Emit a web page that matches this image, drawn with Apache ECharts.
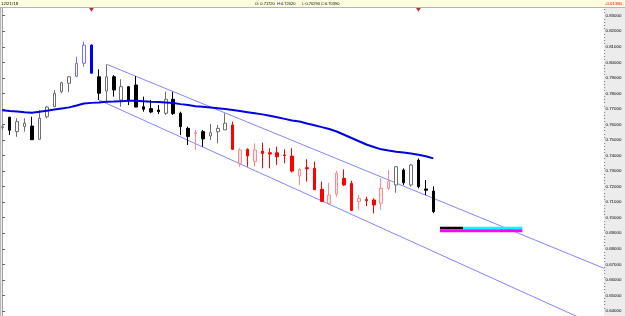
<!DOCTYPE html>
<html><head><meta charset="utf-8">
<script src="https://cdn.jsdelivr.net/npm/echarts@6/dist/echarts.min.js"></script>
<style>html,body{margin:0;padding:0;background:#fff}#c{width:625px;height:316px}</style>
</head><body><div id="c"></div>
<script>
const dateLabel = '12/21/18';
const opens  = [0.7580,0.7646,0.7554,0.7587,0.7590,0.7505,0.7650,0.7715,0.7811,0.7865,
                0.7910,0.7994,0.8111,0.7907,0.7815,0.7907,0.7758,0.7843,0.7854,0.7714,
                0.7702,0.7693,0.7672,0.7762,0.7672,0.7575,0.7542,0.7554,0.7526,0.7553,
                0.7565,0.7597,0.7350,0.7440,0.7361,0.7429,0.7418,0.7418,0.7404,0.7397,
                0.7268,0.7322,0.7318,0.7183,0.7093,0.7153,0.7253,0.7221,0.7103,0.7117,
                0.7114,0.7093,0.7189,0.7211,0.7307,0.7211,0.7371,0.7185,0.7172];
const highs  = [0.7596,0.7650,0.7640,0.7640,0.7650,0.7693,0.7719,0.7822,0.7875,0.7912,
                0.8036,0.8133,0.8115,0.7955,0.7987,0.7918,0.7891,0.7845,0.7912,0.7779,
                0.7758,0.7725,0.7811,0.7811,0.7682,0.7586,0.7565,0.7565,0.7603,0.7597,
                0.7672,0.7618,0.7447,0.7447,0.7479,0.7483,0.7447,0.7457,0.7440,0.7447,
                0.7318,0.7376,0.7361,0.7232,0.7225,0.7302,0.7311,0.7238,0.7146,0.7135,
                0.7125,0.7254,0.7307,0.7333,0.7318,0.7346,0.7382,0.7243,0.7202];
const lows   = [0.7565,0.7532,0.7521,0.7554,0.7500,0.7503,0.7640,0.7711,0.7801,0.7807,
                0.7905,0.7972,0.7929,0.7758,0.7747,0.7779,0.7714,0.7725,0.7711,0.7682,
                0.7672,0.7667,0.7661,0.7661,0.7532,0.7468,0.7436,0.7457,0.7500,0.7479,
                0.7565,0.7436,0.7328,0.7328,0.7328,0.7318,0.7318,0.7339,0.7350,0.7290,
                0.7211,0.7232,0.7178,0.7103,0.7082,0.7135,0.7204,0.7045,0.7050,0.7075,
                0.7028,0.7050,0.7178,0.7161,0.7211,0.7200,0.7189,0.7146,0.7029];
const closes = [0.7586,0.7563,0.7618,0.7608,0.7502,0.7640,0.7712,0.7800,0.7869,0.7907,
                0.7994,0.8111,0.7930,0.7801,0.7907,0.7822,0.7843,0.7758,0.7712,0.7698,
                0.7680,0.7682,0.7762,0.7670,0.7586,0.7522,0.7548,0.7507,0.7547,0.7575,
                0.7608,0.7440,0.7436,0.7397,0.7436,0.7414,0.7410,0.7393,0.7400,0.7300,
                0.7311,0.7315,0.7180,0.7105,0.7146,0.7286,0.7211,0.7047,0.7125,0.7110,
                0.7082,0.7189,0.7232,0.7328,0.7225,0.7339,0.7200,0.7177,0.7039];
const maValues = [0.7692,0.7687,0.7683,0.7679,0.7676,0.7682,0.7689,0.7696,0.7703,0.7710,
                  0.7722,0.7735,0.7739,0.7742,0.7747,0.7748,0.7750,0.7752,0.7753,0.7750,
                  0.7747,0.7745,0.7742,0.7738,0.7731,0.7725,0.7718,0.7714,0.7709,0.7704,
                  0.7699,0.7693,0.7686,0.7679,0.7672,0.7665,0.7656,0.7646,0.7636,0.7626,
                  0.7619,0.7606,0.7595,0.7583,0.7571,0.7555,0.7534,0.7513,0.7492,0.7471,
                  0.7455,0.7440,0.7432,0.7425,0.7420,0.7413,0.7405,0.7396,0.7382];
const upperChannel = [[14.05, 0.7987], [81, 0.6674]];
const lowerChannel = [[13.0, 0.7758], [81, 0.6285]];
const blueIdx = [10, 11, 12];
const redIdx = [26,31,32,33,34,35,36,37,38,39,40,41,42,43,44,45,46,47,48,49,50,51,52];
const markerIdx = [12, 56];
const bandX0 = [58.9, 62.0, 58.9];
const bandX1 = [62.0, 70.0, 70.0];
const bandTop = [0.6942, 0.6942, 0.69255];
const bandBottom = [0.69255, 0.69255, 0.6906];
const yTicks = [0.64,0.65,0.66,0.67,0.68,0.69,0.70,0.71,0.72,0.73,0.74,0.75,0.76,0.77,0.78,0.79,0.80,0.81,0.82,0.83];

const Y_MIN = 0.63676, Y_MAX = 0.83495, X_MIN = -0.31, X_MAX = 80.98;
const bandColors = ['#000000', '#00ffff', '#ff00ff'];
const groupStyles = {
  normUp:  {fill: '#ffffff', border: '#6e6e6e'},
  normDn:  {fill: '#000000', border: '#000000'},
  redUp:   {fill: '#ffeaea', border: '#ff8a8a'},
  redDn:   {fill: '#ff0000', border: '#ff0000'},
  blueUp:  {fill: '#ffffff', border: '#7070ff'},
  blueDn:  {fill: '#0000ff', border: '#0000ff'}
};
const groups = {};
Object.keys(groupStyles).forEach(k => groups[k] = []);
opens.forEach((o, i) => {
  const g = blueIdx.includes(i) ? 'blue' : (redIdx.includes(i) ? 'red' : 'norm');
  const dir = closes[i] >= o ? 'Up' : 'Dn';
  groups[g + dir].push([i, o, closes[i], lows[i], highs[i]]);
});
const candleSeries = Object.keys(groupStyles).map(k => ({
  type: 'candlestick', name: k, data: groups[k], encode: {x: 0, y: [1, 2, 3, 4]}, barWidth: 3, z: 3,
  itemStyle: {color: groupStyles[k].fill, color0: groupStyles[k].fill,
              borderColor: groupStyles[k].border, borderColor0: groupStyles[k].border,
              borderColorDoji: groupStyles[k].border, borderWidth: 1}
}));
const minorTicks = [];
yTicks.forEach(t => { for (let k = 1; k < 5; k++) minorTicks.push(+(t + 0.002 * k).toFixed(4)); });
const last = opens.length - 1;
const chg = closes[last] - closes[last - 1];
const F = '"Liberation Sans", Arial, sans-serif';

const chart = echarts.init(document.getElementById('c'));
chart.setOption({
  animation: false,
  backgroundColor: '#ececec',
  grid: {left: 0, right: 21, top: 8, bottom: 0, show: true, backgroundColor: '#ffffff', borderWidth: 0},
  xAxis: {type: 'value', min: X_MIN, max: X_MAX, show: false},
  yAxis: [
    {type: 'value', position: 'right', min: Y_MIN, max: Y_MAX, splitLine: {show: false},
     axisLine: {show: true, lineStyle: {color: '#a0a0a0', width: 1}},
     axisTick: {show: true, customValues: yTicks, length: 2.5, lineStyle: {color: '#555'}},
     axisLabel: {show: true, customValues: yTicks, formatter: v => v.toFixed(5), fontSize: 4.4,
                 fontFamily: F, color: '#000', margin: 1.5}},
    {type: 'value', position: 'right', min: Y_MIN, max: Y_MAX, splitLine: {show: false},
     axisLine: {show: false},
     axisTick: {show: true, customValues: minorTicks, length: 1.2, lineStyle: {color: '#888'}},
     axisLabel: {show: false}}
  ],
  series: [
    {type: 'line', data: upperChannel, showSymbol: false, lineStyle: {color: '#8585ff', width: 1}, z: 2},
    {type: 'line', data: lowerChannel, showSymbol: false, lineStyle: {color: '#8585ff', width: 1}, z: 2},
    ...candleSeries,
    {type: 'line', data: maValues.map((v, i) => [i, v]), showSymbol: false, lineStyle: {color: '#0000e0', width: 2}, z: 4},
    {type: 'scatter', data: markerIdx.map(i => [i, Y_MAX - 0.0011]), symbol: 'triangle', symbolRotate: 180,
     symbolSize: [5, 4], itemStyle: {color: '#990000'}, z: 5},
    {type: 'custom', data: bandX0.map((x, i) => [x, bandX1[i], bandTop[i], bandBottom[i], i]), z: 5,
     encode: {x: [0, 1], y: [2, 3]},
     renderItem: (params, api) => {
       const p0 = api.coord([api.value(0), api.value(2)]);
       const p1 = api.coord([api.value(1), api.value(3)]);
       return {type: 'rect', shape: {x: p0[0], y: p0[1], width: p1[0] - p0[0], height: p1[1] - p0[1]},
               style: {fill: bandColors[api.value(4)]}};
     }}
  ],
  graphic: [
    {type: 'rect', shape: {x: 0, y: 0, width: 625, height: 7.5}, style: {fill: '#fdfde0'}, z: 10},
    {type: 'line', shape: {x1: 0, y1: 7.5, x2: 625, y2: 7.5}, style: {stroke: '#b4b4b4', lineWidth: 1}, z: 10},
    {type: 'line', shape: {x1: 0.5, y1: 8, x2: 0.5, y2: 316}, style: {stroke: '#b8b8b8', lineWidth: 1.5}, z: 10},
    {type: 'text', x: 1, y: 1.5, style: {text: dateLabel, font: '4.4px ' + F, fill: '#000'}, z: 11},
    {type: 'text', x: 255, y: 1.5, style: {text: 'O: ' + opens[last].toFixed(5), font: '4px ' + F, fill: '#000'}, z: 11},
    {type: 'text', x: 277, y: 1.5, style: {text: 'H:', font: '4px ' + F, fill: '#0000ff'}, z: 11},
    {type: 'text', x: 281, y: 1.5, style: {text: highs[last].toFixed(5), font: '4px ' + F, fill: '#000'}, z: 11},
    {type: 'text', x: 302, y: 1.5, style: {text: 'L:', font: '4px ' + F, fill: '#ff0000'}, z: 11},
    {type: 'text', x: 305.5, y: 1.5, style: {text: lows[last].toFixed(5), font: '4px ' + F, fill: '#000'}, z: 11},
    {type: 'text', x: 321, y: 1.5, style: {text: 'C:', font: '4px ' + F, fill: '#000'}, z: 11},
    {type: 'text', x: 325, y: 1.5, style: {text: closes[last].toFixed(5), font: '4px ' + F, fill: '#000'}, z: 11},
    {type: 'text', x: 605, y: 1.5, style: {text: chg.toFixed(5), font: '4.3px ' + F, fill: '#ff0000'}, z: 11}
  ]
});
</script></body></html>
